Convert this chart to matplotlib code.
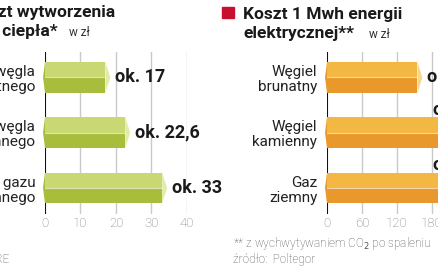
import matplotlib
matplotlib.use("Agg")
import matplotlib.pyplot as plt
from matplotlib.patches import Polygon

plt.rcParams['font.family'] = ['Roboto', 'DejaVu Sans']

# data
heat_labels = ["Z węgla\nbrunatnego", "Z węgla\nkamiennego", "Z gazu\nziemnego"]
heat_values = [17, 22.6, 33]
heat_texts = ["ok. 17", "ok. 22,6", "ok. 33"]
heat_ticks = [0, 10, 20, 30, 40]

power_labels = ["Węgiel\nbrunatny", "Węgiel\nkamienny", "Gaz\nziemny"]
power_values = [155, 260, 300]
power_texts = ["ok. 155", "ok. 260", "ok. 300"]
power_ticks = [0, 60, 120, 180, 240, 300]

W, H = 439, 268
fig = plt.figure(figsize=(W / 100, H / 100), dpi=100)


def px(x, y):
    return x / W, 1 - y / H


def prism_bars(ax, values, top_c, bot_c, cap_c, tip):
    for i, v in enumerate(values):
        h = 0.56
        ax.barh(i - h / 4, v, height=h / 2, color=top_c, linewidth=0)
        ax.barh(i + h / 4, v, height=h / 2, color=bot_c, linewidth=0)
        ax.plot([0, v], [i, i], color='white', lw=0.8, alpha=0.6)
        ax.add_patch(Polygon([(v, i - h / 2), (v + tip, i), (v, i + h / 2)],
                             closed=True, color=cap_c, lw=0))
        ax.add_patch(Polygon([(0, i - h / 2), (-tip * 0.4, i), (0, i + h / 2)],
                             closed=True, color=bot_c, lw=0, clip_on=False))


def style_axes(ax, ticks, labels, xmax):
    ax.set_xlim(0, xmax)
    ax.set_ylim(2.47, -0.46)
    ax.set_xticks(ticks)
    ax.set_xticklabels([str(t) for t in ticks], color='#7a7a7a', fontsize=9.5,
                       fontweight='light')
    ax.set_yticks(range(len(labels)))
    ax.set_yticklabels(labels, fontsize=11, color='#222222', linespacing=1.1)
    ax.tick_params(axis='y', length=0, pad=7)
    ax.tick_params(axis='x', length=0, pad=2)
    for s in ax.spines.values():
        s.set_visible(False)
    ax.axvline(0, color='#111111', lw=1.5, zorder=0)
    for t in ticks[1:]:
        ax.axvline(t, color='#c9c9c9', lw=1, zorder=0)
    for lab in ax.get_yticklabels():
        lab.set_horizontalalignment('right')


# left panel: heat
ax1 = fig.add_axes([45 / W, 54 / H, 142 / W, 162 / H])
style_axes(ax1, heat_ticks, heat_labels, 40)
prism_bars(ax1, heat_values, '#c9d873', '#a9bd3d', '#e2eba8', 1.4)
for i, (v, t) in enumerate(zip(heat_values, heat_texts)):
    ax1.text(v + 2.8, i, t, fontsize=13, fontweight='bold', color='#1a1a1a',
             va='center', ha='left', clip_on=False)

# right panel: electricity
ax2 = fig.add_axes([327 / W, 54 / H, 210 / W, 162 / H])
style_axes(ax2, power_ticks, power_labels, 360)
prism_bars(ax2, power_values, '#f3b843', '#e9982c', '#f8d68e', 8.5)
for i, (v, t) in enumerate(zip(power_values, power_texts)):
    if v < 170:
        ax2.text(v + 16, i, t, fontsize=13, fontweight='bold', color='#1a1a1a',
                 va='center', ha='left', clip_on=False)
    else:
        ax2.text(181, i - 0.42, t, fontsize=13, fontweight='bold', color='#1a1a1a',
                 va='center', ha='left', clip_on=False)

# titles
fig.text(*px(115, 17), "Koszt wytworzenia", ha='right', va='baseline',
         fontsize=12.5, fontweight='bold', color='#1a1a1a')
fig.text(*px(58, 36), "1 GJ ciepła*", ha='right', va='baseline',
         fontsize=12.5, fontweight='bold', color='#1a1a1a')
fig.text(*px(69, 36), "w zł", ha='left', va='baseline', fontsize=8.5, color='#333333')

fig.patches.append(plt.Rectangle(px(222, 18), 12 / W, 11 / H, color='#c8102e',
                                 transform=fig.transFigure, figure=fig))
fig.text(*px(243, 19), "Koszt 1 Mwh energii", ha='left', va='baseline',
         fontsize=12.5, fontweight='bold', color='#1a1a1a')
fig.text(*px(243, 38), "elektrycznej**", ha='left', va='baseline',
         fontsize=12.5, fontweight='bold', color='#1a1a1a')
fig.text(*px(369, 38), "w zł", ha='left', va='baseline', fontsize=8.5, color='#333333')

# footnotes
fig.text(*px(233, 247), "** z wychwytywaniem CO$_2$ po spaleniu", ha='left',
         va='baseline', fontsize=8.5, color='#555555', fontweight='light')
fig.text(*px(233, 263), "źródło:  Poltegor", ha='left', va='baseline',
         fontsize=8.5, color='#555555', fontweight='light')
fig.text(*px(9, 263), "źródło: ARE", ha='right', va='baseline',
         fontsize=8.5, color='#555555', fontweight='light')

fig.savefig("out.png", dpi=100)
